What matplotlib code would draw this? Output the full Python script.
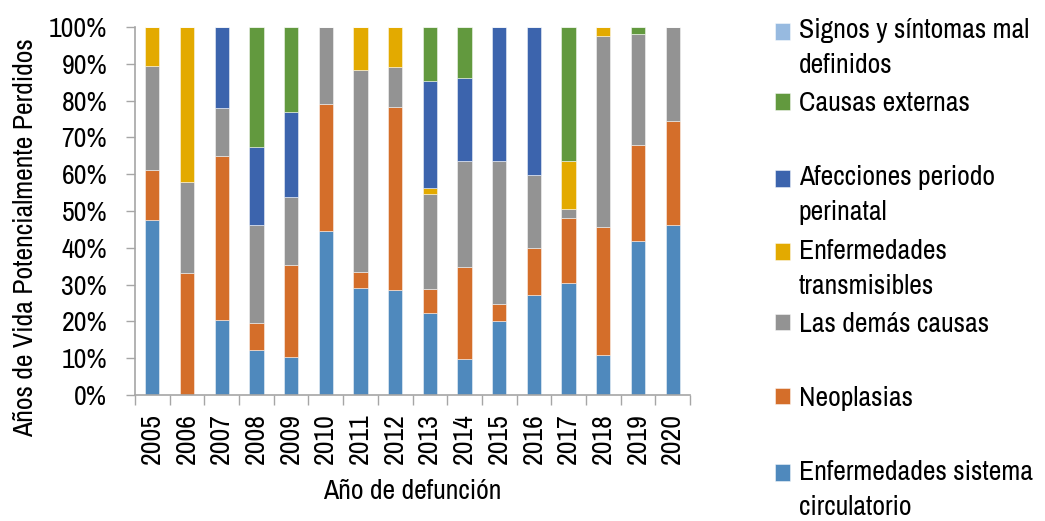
import numpy as np
import matplotlib; matplotlib.use("Agg")
import matplotlib.pyplot as plt
from matplotlib.patches import Rectangle
from matplotlib.legend_handler import HandlerPatch
from matplotlib.ticker import PercentFormatter, FixedLocator

plt.rcParams["font.family"] = ["Archivo Narrow", "Roboto Condensed", "Liberation Sans", "DejaVu Sans"]

years = ["2005", "2006", "2007", "2008", "2009", "2010", "2011", "2012",
         "2013", "2014", "2015", "2016", "2017", "2018", "2019", "2020"]
# share of AVPP per cause group (%)
circulatorio = [47.5, 0.0, 20.5, 12.3, 10.2, 44.5, 29.2, 28.6, 22.2, 9.9, 20.0, 27.2, 30.4, 10.8, 41.9, 46.1]
neoplasias = [13.6, 33.1, 44.4, 7.4, 25.1, 34.5, 4.3, 49.6, 6.5, 25.0, 4.7, 12.7, 17.7, 34.8, 26.0, 28.3]
demas = [28.2, 24.7, 13.1, 26.4, 18.6, 21.0, 54.8, 10.9, 25.8, 28.7, 38.9, 19.9, 2.4, 52.0, 30.2, 25.6]
transmisibles = [10.7, 42.2, 0.0, 0.0, 0.0, 0.0, 11.7, 10.9, 1.7, 0.0, 0.0, 0.0, 13.1, 2.4, 0.0, 0.0]
perinatal = [0.0, 0.0, 22.0, 21.3, 23.0, 0.0, 0.0, 0.0, 29.1, 22.5, 36.4, 40.2, 0.0, 0.0, 0.0, 0.0]
externas = [0.0, 0.0, 0.0, 32.6, 23.1, 0.0, 0.0, 0.0, 14.7, 13.9, 0.0, 0.0, 36.4, 0.0, 1.9, 0.0]
signos = [0.0] * 16

series = [
    ("Enfermedades sistema\ncirculatorio", circulatorio, "#4F89BD"),
    ("Neoplasias", neoplasias, "#D46E2A"),
    ("Las demás causas", demas, "#939393"),
    ("Enfermedades\ntransmisibles", transmisibles, "#E3AA00"),
    ("Afecciones periodo\nperinatal", perinatal, "#3C64AD"),
    ("Causas externas", externas, "#62993E"),
    ("Signos y síntomas mal\ndefinidos", signos, "#97BAE0"),
]

FS = 20
fig = plt.figure(figsize=(10.45, 5.21), dpi=100)
ax = fig.add_axes([135/1045, 1-395/521, 555/1045, 368/521])

x = np.arange(len(years))
bottom = np.zeros(len(years))
handles = {}
for label, vals, color in series:
    v = np.array(vals)
    bars = ax.bar(x, v, 0.41, bottom=bottom, color=color,
                  edgecolor=(1, 1, 1, 0.55), linewidth=0.6, label=label)
    handles[label] = bars[0]
    bottom += v

ax.set_xlim(-0.5, len(years) - 0.5)
ax.set_ylim(0, 100)
ax.set_yticks(np.arange(0, 101, 10))
ax.yaxis.set_major_formatter(PercentFormatter(decimals=0))
ax.set_xticks(x)
ax.set_xticklabels(years, rotation=90, fontsize=FS)
ax.xaxis.set_minor_locator(FixedLocator(np.arange(-0.5, len(years), 1)))
ax.tick_params(axis="x", which="major", length=0, pad=13)
ax.tick_params(axis="x", which="minor", length=7, color="#A6A6A6", width=1)
ax.tick_params(axis="y", length=6.5, color="#A6A6A6", width=1, pad=13.5, labelsize=FS)
for s in ["top", "right"]:
    ax.spines[s].set_visible(False)
for s in ["left", "bottom"]:
    ax.spines[s].set_color("#A6A6A6")
    ax.spines[s].set_linewidth(1.2)

ax.set_xlabel("Año de defunción", fontsize=FS)
ax.set_ylabel("Años de Vida Potencialmente Perdidos", fontsize=FS)
ax.yaxis.set_label_coords(-0.175, 0.428)
ax.xaxis.set_label_coords(0.5, -0.228)


def square(shift):
    def make(legend, orig_handle, xdescent, ydescent, width, height, fontsize):
        return Rectangle((-xdescent, -ydescent + shift * fontsize), width, height,
                         facecolor=orig_handle.get_facecolor(), edgecolor="none")
    return make


order = [s[0] for s in series][::-1]
labels, hs, hmap = [], [], {}
spacer_after = {"Causas externas", "Las demás causas", "Neoplasias"}
for lab in order:
    h = handles[lab]
    labels.append(lab)
    hs.append(h)
    hmap[h] = HandlerPatch(patch_func=square(0.61 if "\n" in lab else 0.0))
    if lab in spacer_after:
        labels.append(" ")
        hs.append(Rectangle((0, 0), 1, 1, visible=False))

leg = fig.legend(hs, labels, handler_map=hmap, loc="upper left",
                 bbox_to_anchor=(775/1045, 1-18/521), frameon=False, fontsize=FS,
                 borderpad=0, borderaxespad=0, handlelength=0.55, handleheight=0.55,
                 handletextpad=0.3, labelspacing=0.48)
for t in leg.get_texts():
    t.set_linespacing(1.5)
    if t.get_text() == " ":
        t.set_fontsize(17)

fig.savefig("out.png", dpi=100)
